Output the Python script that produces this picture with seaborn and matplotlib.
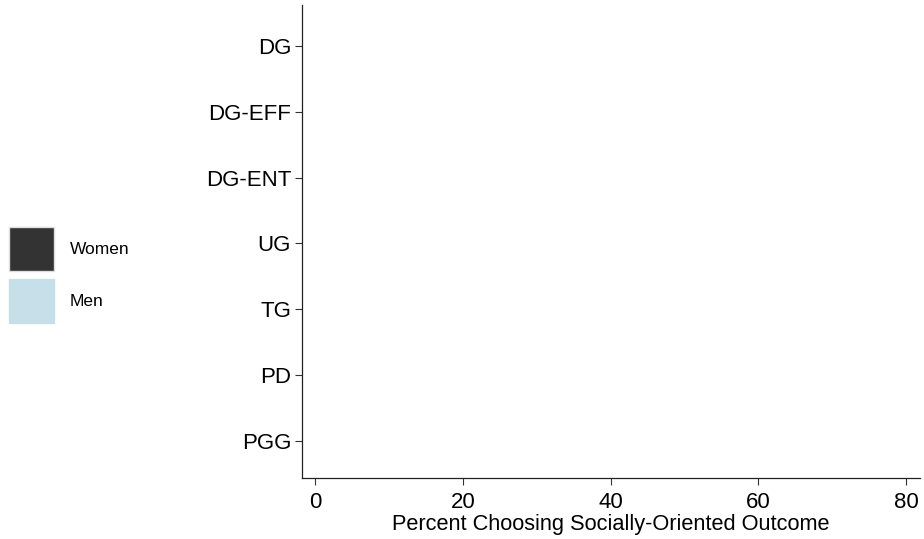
import pandas as pd
import numpy as np
import matplotlib.pyplot as plt
import seaborn as sns
from matplotlib.patches import Patch

games = ["DG", "DG-EFF", "DG-ENT", "UG", "TG", "PD", "PGG"]
women = [0, 0, 0, 0, 0, 0, 0]
men = [0, 0, 0, 0, 0, 0, 0]
x_ticks = [0, 20, 40, 60, 80]

sns.set_style("ticks")
plt.rcParams['font.family'] = ['Liberation Sans', 'DejaVu Sans']
plt.rcParams['text.color'] = 'black'
plt.rcParams['xtick.labelcolor'] = 'black'
plt.rcParams['ytick.labelcolor'] = 'black'

data = pd.DataFrame({
    "game": games * 2,
    "pct": women + men,
    "sex": ["Women"] * len(games) + ["Men"] * len(games),
})

fig = plt.figure(figsize=(9.24, 5.39), dpi=100)
ax = fig.add_axes([0.327, 0.113, 0.669, 0.878])

sns.barplot(data=data, y="game", x="pct", hue="sex", order=games,
            palette={"Women": "#333333", "Men": "#c6dfe9"}, orient="h",
            legend=False, ax=ax)

ax.set_xlim(-1.75, 81.9)
ax.set_ylim(6.56, -0.62)
ax.set_xticks(x_ticks)
ax.set_xticklabels([str(t) for t in x_ticks], fontsize=16)
ax.set_yticks(range(len(games)))
ax.set_yticklabels(games, fontsize=16)
ax.set_ylabel("")
ax.set_xlabel("Percent Choosing Socially-Oriented Outcome", fontsize=15.7,
              labelpad=1, color="black")
ax.tick_params(axis="both", length=5, width=0.8, color="#333333")
ax.tick_params(axis="y", pad=3)
ax.tick_params(axis="x", pad=5)
for s in ["top", "right"]:
    ax.spines[s].set_visible(False)
for s in ["left", "bottom"]:
    ax.spines[s].set_linewidth(0.9)
    ax.spines[s].set_color("#222222")

handles = [Patch(facecolor="#333333", edgecolor="#dddddd", label="Women"),
           Patch(facecolor="#c6dfe9", edgecolor="#c6dfe9", label="Men")]
fig.legend(handles=handles, loc="center left", bbox_to_anchor=(-0.007, 0.49),
           frameon=False, fontsize=12.5, handlelength=2.6, handleheight=3.5,
           handletextpad=0.9, labelspacing=0.5)

plt.savefig("out.png", dpi=100)
